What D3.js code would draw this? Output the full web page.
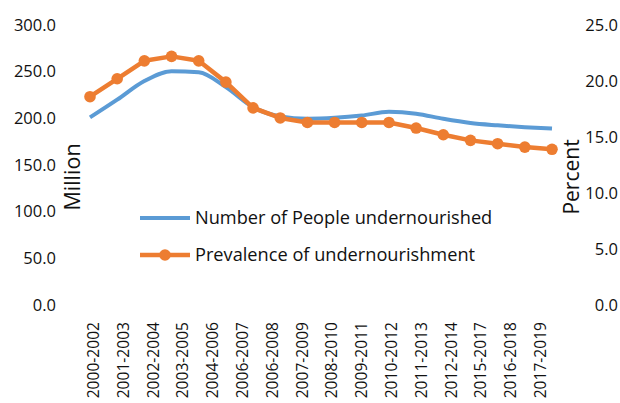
<!DOCTYPE html>
<html>
<head>
<meta charset="utf-8">
<script src="https://cdn.jsdelivr.net/npm/d3@7"></script>
<style>
  html, body { margin: 0; padding: 0; background: #fff; }
  svg { display: block; }
  text { font-family: "Open Sans", "Noto Sans", sans-serif; fill: #111; }
</style>
</head>
<body>
<svg id="chart" width="620" height="403"></svg>
<script>
// ---- data ----
const periods = ["2000-2002","2001-2003","2002-2004","2003-2005","2004-2006","2005-2007",
  "2006-2008","2007-2009","2008-2010","2009-2011","2010-2012","2011-2013","2012-2014",
  "2013-2015","2014-2016","2015-2017","2016-2018","2017-2019"];
const peopleMillion = [201, 220, 240, 250.5, 249.5, 233.5, 212, 202, 199.5, 200.5, 203, 207,
  205, 199.5, 195, 192.5, 190.5, 189];
const prevalencePct = [18.6, 20.2, 21.8, 22.2, 21.8, 19.9, 17.6, 16.7, 16.3, 16.3, 16.3, 16.3,
  15.8, 15.2, 14.7, 14.4, 14.1, 13.9];
const xTickLabels = ["2000-2002","2001-2003","2002-2004","2003-2005","2004-2006","2006-2007",
  "2006-2008","2007-2009","2008-2010","2009-2011","2010-2012","2011-2013","2012-2014",
  "2015-2017","2016-2018","2017-2019"];
const leftTicks = [0, 50, 100, 150, 200, 250, 300];
const rightTicks = [0, 5, 10, 15, 20, 25];
const seriesNames = ["Number of People undernourished", "Prevalence of undernourishment"];

// ---- chart ----
const svg = d3.select("#chart");
const blue = "#5B9BD5", orange = "#ED7D31";

const x = d3.scalePoint().domain(periods).range([90, 552]);
const xl = d3.scalePoint().domain(xTickLabels).range([93, 540]);
const yL = d3.scaleLinear().domain([0, 300]).range([305, 25]);
const yR = d3.scaleLinear().domain([0, 25]).range([305, 25]);

// left axis
const leftAxis = d3.axisLeft(yL).tickValues(leftTicks).tickFormat(d3.format(".1f")).tickSize(0).tickPadding(0);
const gL = svg.append("g").attr("transform", "translate(56,0)").call(leftAxis);
gL.select(".domain").remove();
gL.selectAll("text").attr("font-size", "16.5px").attr("font-family", "Open Sans").attr("fill", "#111");

// right axis
const rightAxis = d3.axisRight(yR).tickValues(rightTicks).tickFormat(d3.format(".1f")).tickSize(0).tickPadding(0);
const gR = svg.append("g").attr("transform", "translate(618,0)").call(rightAxis);
gR.select(".domain").remove();
gR.selectAll("text").attr("text-anchor", "end").attr("font-size", "16.5px").attr("font-family", "Open Sans").attr("fill", "#111");

// x labels
const xAxis = d3.axisBottom(xl).tickSize(0).tickPadding(0);
const gX = svg.append("g").attr("transform", "translate(0,322)").call(xAxis);
gX.select(".domain").remove();
gX.selectAll("text")
  .attr("transform", "rotate(-90)")
  .attr("text-anchor", "end")
  .attr("x", 0).attr("y", 0).attr("dy", "0.35em")
  .attr("font-size", "15.6px").attr("font-family", "Open Sans").attr("fill", "#111");

// axis titles
svg.append("text").attr("transform", "translate(72,177) rotate(-90)")
  .attr("text-anchor", "middle").attr("dy", "0.35em").attr("font-size", "21.5px").text("Million");
svg.append("text").attr("transform", "translate(572,177) rotate(-90)")
  .attr("text-anchor", "middle").attr("dy", "0.35em").attr("font-size", "21px").text("Percent");

// blue line
const lineBlue = d3.line().x((d, i) => x(periods[i])).y(d => yL(d)).curve(d3.curveMonotoneX);
svg.append("path").datum(peopleMillion).attr("d", lineBlue)
  .attr("fill", "none").attr("stroke", blue).attr("stroke-width", 4).attr("stroke-linejoin", "round");

// orange line + dots
const lineOrange = d3.line().x((d, i) => x(periods[i])).y(d => yR(d));
svg.append("path").datum(prevalencePct).attr("d", lineOrange)
  .attr("fill", "none").attr("stroke", orange).attr("stroke-width", 4.5).attr("stroke-linejoin", "round");
svg.selectAll("circle.pt").data(prevalencePct).join("circle").attr("class", "pt")
  .attr("cx", (d, i) => x(periods[i])).attr("cy", d => yR(d)).attr("r", 5.8).attr("fill", orange);

// legend
const lg = svg.append("g");
lg.append("line").attr("x1", 140).attr("x2", 190).attr("y1", 218).attr("y2", 218)
  .attr("stroke", blue).attr("stroke-width", 4);
lg.append("text").attr("x", 195).attr("y", 218).attr("dy", "0.35em").attr("font-size", "18.2px").text(seriesNames[0]);
lg.append("line").attr("x1", 140).attr("x2", 190).attr("y1", 255).attr("y2", 255)
  .attr("stroke", orange).attr("stroke-width", 4.5);
lg.append("circle").attr("cx", 165).attr("cy", 255).attr("r", 5.8).attr("fill", orange);
lg.append("text").attr("x", 195).attr("y", 255).attr("dy", "0.35em").attr("font-size", "18.2px").text(seriesNames[1]);
</script>
</body>
</html>
